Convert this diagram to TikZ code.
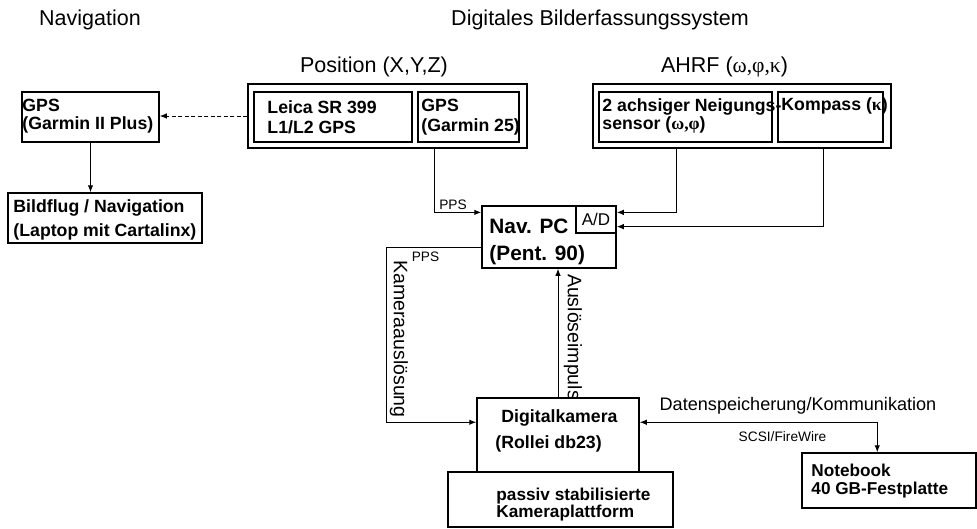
\documentclass[tikz,border=0pt]{standalone}
\usepackage{fontspec}
\setmainfont{Liberation Sans}
\newfontfamily\grk{Liberation Serif}
\usetikzlibrary{calc, positioning, arrows.meta}

\tikzset{
  box/.style 2 args={draw, line width=1.5pt, inner sep=0pt, minimum width=#1, minimum height=#2},
  boxtxt/.style={anchor=west, align=left, inner sep=0pt, font=\bfseries\fontsize{17.7}{#1}\selectfont},
  boxtxt/.default=20,
  title/.style={inner sep=0pt, font=\fontsize{21.5}{24}\selectfont},
  lbl/.style={inner sep=0pt, font=\fontsize{19.5}{22}\selectfont},
  tiny/.style={inner sep=0pt, font=\fontsize{13.7}{16}\selectfont},
  arr/.style={line width=1pt, -{Latex[length=7pt,width=5.5pt]}},
}

\begin{document}
\begin{tikzpicture}[x=1pt, y=-1pt]
    \useasboundingbox (0,0) rectangle (977,528);

    % titles
    \node[title] (navtitle) at (90,20) {Navigation};
    \node[title] (systitle) at (600,20) {Digitales Bilderfassungssystem};
    \node[title] (postitle) at (374,67) {Position (X,Y,Z)};
    \node[title] (ahrftitle) at (724.5,67) {AHRF ({\grk ω,φ,κ})};

    % navigation side
    \node[box={137}{50}] (gpsnav) at (90.5,117) {};
    \node[boxtxt=18] (gpsnavtxt) at ($(gpsnav.west)+(1,-1)$) {GPS\\(Garmin II Plus)};
    \node[box={194}{50}] (bildflug) at (105,218) {};
    \node[boxtxt=24] (bildflugtxt) at ($(bildflug.west)+(6,2)$) {Bildflug / Navigation\\(Laptop mit Cartalinx)};

    % position sensors
    \node[box={279}{64}] (posbox) at (387.5,116) {};
    \node[box={158}{50}] (leica) at (333,117) {};
    \node[boxtxt] (leicatxt) at ($(leica.west)+(14,0)$) {Leica SR 399\\L1/L2 GPS};
    \node[box={101}{50}] (gps25) at (468.5,117) {};
    \node[boxtxt] (gps25txt) at ($(gps25.west)+(4,0)$) {GPS\\(Garmin 25)};

    % attitude sensors
    \node[box={298}{64}] (ahrfbox) at (742,116) {};
    \node[box={173}{50}] (neigung) at (685.5,117) {};
    \node[boxtxt=18] (neigungtxt) at ($(neigung.west)+(4,-1)$) {2 achsiger Neigungs-\\sensor ({\grk\bfseries ω,φ})};
    \node[box={105}{50}] (kompass) at (830.5,117) {};
    \node[boxtxt] (kompasstxt) at ($(kompass.north west)+(4,15)$) {Kompass ({\grk\bfseries κ})};

    % computer
    \node[box={134}{62}] (navpc) at (549,237) {};
    \node[anchor=west, align=left, inner sep=0pt, font=\bfseries\fontsize{20.8}{27}\selectfont]
        (navpctxt) at ($(navpc.west)+(8,4.5)$) {Nav. PC\\(Pent. 90)};
    \node[box={40}{27}, font=\fontsize{17}{20}\selectfont] (ad) at (596,219.5) {A/D};

    % camera
    \node[box={162}{74}] (kamera) at (558,435) {};
    \node[boxtxt=26] (kameratxt) at ($(kamera.west)+(19,-4)$) {\hspace*{6pt}Digitalkamera\\(Rollei db23)};
    \node[box={225}{55}] (platform) at (560.5,499.5) {};
    \node[boxtxt=15, font=\bfseries\fontsize{17.2}{15}\selectfont] (platformtxt) at ($(platform.west)+(49,5)$) {passiv stabilisierte\\Kameraplattform};
    \node[box={174}{55}] (notebook) at (889,480.5) {};
    \node[boxtxt=18, font=\bfseries\fontsize{17.2}{18}\selectfont] (notebooktxt) at ($(notebook.west)+(10,0.5)$) {Notebook\\40 GB-Festplatte};

    % connector ends
    \coordinate (adtop) at ($(ad.north east)!0.25!(ad.south east)$);
    \coordinate (adbot) at ($(ad.north east)!0.75!(ad.south east)$);
    \coordinate (gpsout) at (434,148);
    \coordinate (neigout) at (676,148);
    \coordinate (kompout) at (823,148);
    \coordinate (trigout) at ($(navpc.north west)+(0,42)$);
    \coordinate (kamin) at ($(kamera.north west)+(0,25)$);
    \coordinate (kamout) at ($(kamera.north east)+(0,25)$);
    \coordinate (nbin) at ($(notebook.north west)+(76,0)$);

    % connectors
    \draw[arr] (gpsnav.south) -- (gpsnav.south |- bildflug.north);
    \draw[arr, dash pattern=on 4pt off 2.5pt] (posbox.west) -- (posbox.west -| gpsnav.east);
    \draw[arr] (gpsout) |- (navpc.west |- adtop);
    \draw[arr] (neigout) |- (adtop);
    \draw[arr] (kompout) |- (adbot);
    \draw[arr] (trigout) -- ++(-95,0) |- (kamin);
    \draw[arr] (kamera.north) -- (kamera.north |- navpc.south);
    \draw[line width=1pt, {Latex[length=7pt,width=5.5pt]}-{Latex[length=7pt,width=5.5pt]}] (kamout) -| (nbin);

    % labels
    \node[tiny] (ppsgps) at (453,205) {PPS};
    \node[tiny] (ppstrig) at (425.5,257) {PPS};
    \node[lbl, rotate=-90] (trigtxt) at (399,339) {Kameraauslösung};
    \node[lbl, rotate=-90] (impulstxt) at (573,337) {Auslöseimpuls};
    \node[inner sep=0pt, font=\fontsize{18.1}{21}\selectfont] (datatxt) at (798,406) {Datenspeicherung/Kommunikation};
    \node[tiny] (scsitxt) at (782.5,437) {SCSI/FireWire};
\end{tikzpicture}
\end{document}
